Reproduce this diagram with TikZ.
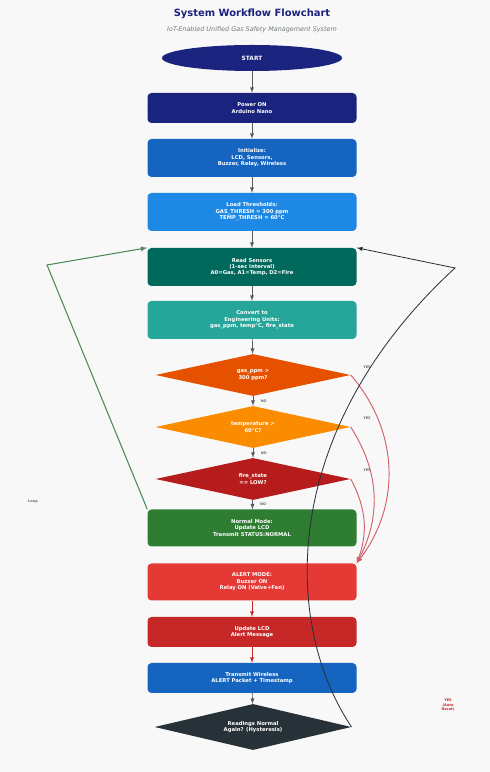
\documentclass[tikz,border=0pt]{standalone}
\usepackage{fontspec}
\setmainfont{DejaVu Sans}
\usetikzlibrary{arrows}
\usetikzlibrary{shapes}
\definecolor{PageBg}{HTML}{F8F8F8}
\definecolor{Navy}{HTML}{1A237E}
\definecolor{MidBlue}{HTML}{1565C0}
\definecolor{LightBlue}{HTML}{1E88E5}
\definecolor{DarkTeal}{HTML}{00695C}
\definecolor{Teal}{HTML}{26A69A}
\definecolor{DeepOrange}{HTML}{E65100}
\definecolor{Amber}{HTML}{FB8C00}
\definecolor{DarkRed}{HTML}{B71C1C}
\definecolor{Green}{HTML}{2E7D32}
\definecolor{Red}{HTML}{E53935}
\definecolor{MidRed}{HTML}{C62828}
\definecolor{Slate}{HTML}{263238}
\definecolor{ArcRed}{HTML}{D0606A}
\definecolor{LoopGreen}{HTML}{4E8A55}
\tikzstyle{StepNode}=[rectangle, rounded corners=1.2mm, minimum width=62.7mm, minimum height=11.4mm, inner sep=1pt, text=white, align=center, font=\fontsize{4.5}{5.5}\selectfont\bfseries]
\tikzstyle{ShortStepNode}=[StepNode, minimum height=9mm]
\tikzstyle{DecisionNode}=[diamond, aspect=4.6, minimum width=58.5mm, minimum height=12.6mm, inner sep=0pt, text=white, align=center, font=\fontsize{4.5}{5.5}\selectfont\bfseries]
\tikzstyle{StartNode}=[ellipse, fill=Navy, minimum width=54mm, minimum height=7.8mm, text=white, font=\fontsize{5}{6}\selectfont\bfseries]
\tikzstyle{FlowEdge}=[->, draw=Slate!80, line width=0.6pt]
\tikzstyle{YesEdge}=[->, draw=ArcRed, line width=0.8pt]
\tikzstyle{LoopEdge}=[->, draw=LoopGreen, line width=0.9pt]
\tikzstyle{ReturnEdge}=[->, draw=Slate, line width=0.7pt]
\tikzstyle{TinyLabel}=[font=\fontsize{3}{3.6}\selectfont\bfseries, text=Slate!70]
\tikzset{>=latex}

\begin{document}
\begin{tikzpicture}[x=0.3mm, y=0.3mm]
\fill[PageBg] (0,0) rectangle (490,772);
\useasboundingbox (0,0) rectangle (490,772);

\node[font=\fontsize{8.5}{10}\selectfont\bfseries, text=Navy](TITLE) at (252,758) {System Workflow Flowchart};
\node[font=\fontsize{5.5}{6.5}\selectfont\itshape, text=Slate!65](SUBTITLE) at (252,742) {IoT-Enabled Unified Gas Safety Management System};

\node[StartNode](START) at (252,714) {START};
\node[ShortStepNode, fill=Navy](POWER) at (252,664) {Power ON\\Arduino Nano};
\node[StepNode, fill=MidBlue](INIT) at (252,614) {Initialize:\\LCD, Sensors,\\Buzzer, Relay, Wireless};
\node[StepNode, fill=LightBlue](LOAD) at (252,560) {Load Thresholds:\\GAS\_THRESH = 300 ppm\\TEMP\_THRESH = 60°C};
\node[StepNode, fill=DarkTeal](READ) at (252,505) {Read Sensors\\(1-sec interval)\\A0=Gas, A1=Temp, D2=Fire};
\node[StepNode, fill=Teal](CONVERT) at (252,452) {Convert to\\Engineering Units:\\gas\_ppm, temp°C, fire\_state};
\node[DecisionNode, fill=DeepOrange](GAS) at (253,397) {gas\_ppm >\\300 ppm?};
\node[DecisionNode, fill=Amber](TEMP) at (253,345) {temperature >\\60°C?};
\node[DecisionNode, fill=DarkRed](FIRE) at (253,293) {fire\_state\\== LOW?};
\node[StepNode, fill=Green, minimum height=11.1mm](NORMAL) at (252,244) {Normal Mode:\\Update LCD\\Transmit STATUS:NORMAL};
\node[StepNode, fill=Red, minimum height=11.1mm](ALERT) at (252,190) {ALERT MODE:\\Buzzer ON\\Relay ON (Valve+Fan)};
\node[ShortStepNode, fill=MidRed](UPDATE) at (252,140) {Update LCD\\Alert Message};
\node[ShortStepNode, fill=MidBlue](TRANSMIT) at (252,94) {Transmit Wireless\\ALERT Packet + Timestamp};
\node[DecisionNode, fill=Slate, aspect=4.3, minimum width=59mm, minimum height=13.8mm](AGAIN) at (253,45) {Readings Normal\\Again? (Hysteresis)};

\coordinate(LEFTTURN) at (47,507);
\coordinate(RIGHTTURN) at (455,504);

% main column
\draw[FlowEdge](START) -- (POWER);
\draw[FlowEdge](POWER) -- (INIT);
\draw[FlowEdge](INIT) -- (LOAD);
\draw[FlowEdge](LOAD) -- (READ);
\draw[FlowEdge](READ) -- (CONVERT);
\draw[FlowEdge](CONVERT) -- (GAS);
\draw[FlowEdge](GAS) -- node[TinyLabel, right=3pt]{NO} (TEMP);
\draw[FlowEdge](TEMP) -- node[TinyLabel, right=3pt]{NO} (FIRE);
\draw[FlowEdge](FIRE) -- node[TinyLabel, right=3pt]{NO} (NORMAL);
\draw[FlowEdge, draw=MidRed](ALERT) -- (UPDATE);
\draw[FlowEdge, draw=MidRed](UPDATE) -- (TRANSMIT);
\draw[FlowEdge](TRANSMIT) -- (AGAIN);

% yes branches
\draw[YesEdge](GAS.east) to[bend left=39] (ALERT.north east);
\draw[YesEdge](TEMP.east) to[bend left=30] (ALERT.north east);
\draw[YesEdge](FIRE.east) to[bend left=24] (ALERT.north east);
\node[TinyLabel](YES1) at (367,405) {YES};
\node[TinyLabel](YES2) at (367,354) {YES};
\node[TinyLabel](YES3) at (367,302) {YES};

% loops back to sensing
\draw[LoopEdge](NORMAL.north west) -- (LEFTTURN) -- (READ.north west);
\node[TinyLabel](LOOP) at (33,270) {Loop};
\draw[ReturnEdge](AGAIN.east) .. controls (280,152) and (282,345) .. (RIGHTTURN) -- (READ.north east);
\node[TinyLabel, text=MidRed, align=center](RESET) at (448,67) {YES\\(Auto\\Reset)};
\end{tikzpicture}
\end{document}
